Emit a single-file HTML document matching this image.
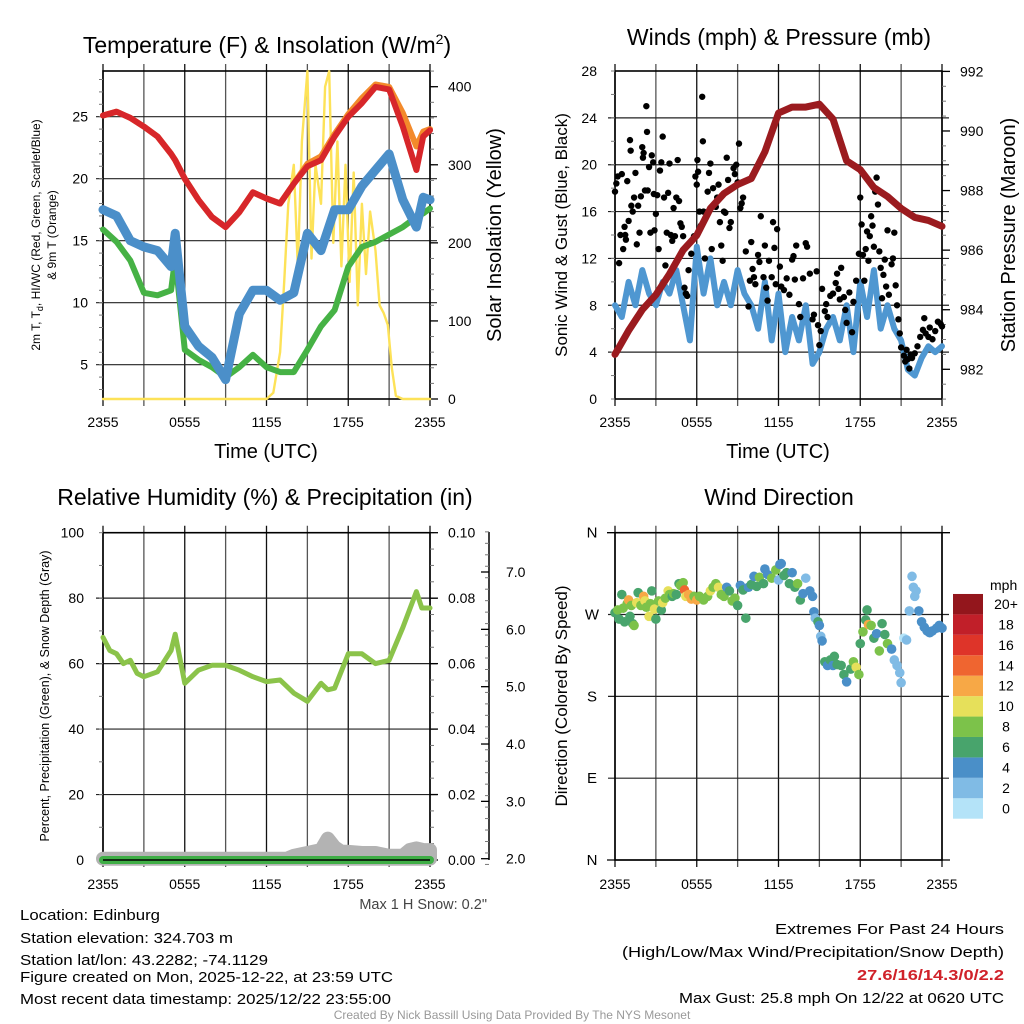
<!DOCTYPE html>
<html><head><meta charset="utf-8"><style>
html,body{margin:0;padding:0;background:#fff}
svg{display:block;font-family:"Liberation Sans",Arial,sans-serif}
</style></head><body>
<svg id="root" width="1024" height="1024" viewBox="0 0 1024 1024" xmlns="http://www.w3.org/2000/svg">
<rect width="1024" height="1024" fill="#fff"/>
<g id="layer"></g>
<text x="267" y="53" font-size="23" text-anchor="middle">Temperature (F) &amp; Insolation (W/m<tspan dy="-9" font-size="14">2</tspan><tspan dy="9">)</tspan></text>
<text x="779" y="45" font-size="23" text-anchor="middle">Winds (mph) &amp; Pressure (mb)</text>
<text x="265" y="505" font-size="23" text-anchor="middle">Relative Humidity (%) &amp; Precipitation (in)</text>
<text x="779" y="505" font-size="23" text-anchor="middle">Wind Direction</text>
<text x="266" y="458" font-size="20" text-anchor="middle">Time (UTC)</text>
<text x="778" y="458" font-size="20" text-anchor="middle">Time (UTC)</text>
<text transform="translate(40,235) rotate(-90)" font-size="12" text-anchor="middle">2m T, T<tspan font-size="9" dy="3">d</tspan><tspan dy="-3">, HI/WC (Red, Green, Scarlet/Blue)</tspan></text>
<text transform="translate(56,235) rotate(-90)" font-size="12" text-anchor="middle">&amp; 9m T (Orange)</text>
<text transform="translate(501,235) rotate(-90)" font-size="20" text-anchor="middle">Solar Insolation (Yellow)</text>
<text transform="translate(567,235) rotate(-90)" font-size="17" text-anchor="middle">Sonic Wind &amp; Gust (Blue, Black)</text>
<text transform="translate(1015,235) rotate(-90)" font-size="20" text-anchor="middle">Station Pressure (Maroon)</text>
<text transform="translate(49,696) rotate(-90)" font-size="12.5" text-anchor="middle">Percent, Precipitation (Green), &amp; Snow Depth (Gray)</text>
<text transform="translate(567,696) rotate(-90)" font-size="17" text-anchor="middle">Direction (Colored By Speed)</text>
<text x="487" y="909" font-size="14.5" text-anchor="end" fill="#444">Max 1 H Snow: 0.2"</text>
<g font-size="15">
<text x="20" y="920" textLength="140" lengthAdjust="spacingAndGlyphs">Location: Edinburg</text>
<text x="20" y="943" textLength="213" lengthAdjust="spacingAndGlyphs">Station elevation: 324.703 m</text>
<text x="20" y="965" textLength="248" lengthAdjust="spacingAndGlyphs">Station lat/lon: 43.2282; -74.1129</text>
<text x="20" y="982" textLength="373" lengthAdjust="spacingAndGlyphs">Figure created on Mon, 2025-12-22, at 23:59 UTC</text>
<text x="20" y="1004" textLength="371" lengthAdjust="spacingAndGlyphs">Most recent data timestamp: 2025/12/22 23:55:00</text>
</g>
<g font-size="15">
<text x="775" y="934" textLength="229" lengthAdjust="spacingAndGlyphs">Extremes For Past 24 Hours</text>
<text x="622" y="957" textLength="382" lengthAdjust="spacingAndGlyphs">(High/Low/Max Wind/Precipitation/Snow Depth)</text>
<text x="857" y="980" textLength="147" lengthAdjust="spacingAndGlyphs" fill="#d0222a" font-weight="bold">27.6/16/14.3/0/2.2</text>
<text x="679" y="1003" textLength="325" lengthAdjust="spacingAndGlyphs">Max Gust: 25.8 mph On 12/22 at 0620 UTC</text>
</g>
<text x="512" y="1019" font-size="12" text-anchor="middle" fill="#999">Created By Nick Bassill Using Data Provided By The NYS Mesonet</text>
</svg>
<script>
const hours = [0,1,2,3,4,5,5.3,6,7,8,9,10,11,12,13,14,15,16,17,18,19,20,21,22,23,23.5,24];
const tempF = [25.1,25.4,24.9,24.2,23.4,22.0,21.5,20.0,18.3,16.9,16.1,17.3,18.9,18.4,18.0,19.6,21.0,21.5,23.4,25.0,26.1,27.4,27.2,24.2,20.7,23.4,23.9];
const temp9mF = [25.1,25.4,24.9,24.2,23.4,22.0,21.5,20.0,18.3,16.9,16.1,17.3,18.9,18.4,18.0,19.6,21.2,21.8,23.6,25.2,26.5,27.6,27.4,25.3,22.6,23.8,24.0];
const dewF = [15.9,14.9,13.4,10.8,10.6,11.0,13.6,6.2,5.4,4.8,4.0,4.8,5.8,4.8,4.4,4.4,6.2,8.1,9.4,12.9,14.5,14.9,15.5,16.1,16.9,17.2,17.6];
const windChillF = [17.5,17.0,15.0,14.5,14.2,12.9,15.6,8.1,6.5,5.6,3.8,9.1,11.0,11.0,10.2,10.8,15.6,14.2,17.5,17.5,19.4,20.7,22.0,18.3,16.1,18.5,18.3];
const solarHours = [0,12,12.5,13,13.3,13.6,14,14.3,14.6,15,15.3,15.6,16,16.3,16.6,16.9,17.2,17.5,17.8,18.1,18.4,18.7,19,19.3,19.6,20,20.3,20.6,20.9,21.2,21.5,22,24];
const solarW = [0,0,8,60,150,250,300,170,330,420,180,300,250,400,420,200,330,170,300,150,290,120,250,160,240,190,120,110,95,40,4,0,0];
const windHours = [0,0.5,1,1.5,2,2.5,3,3.5,4,4.5,5,5.5,6,6.5,7,7.5,8,8.5,9,9.5,10,10.5,11,11.5,12,12.5,13,13.5,14,14.5,15,15.5,16,16.5,17,17.5,18,18.5,19,19.5,20,20.5,21,21.5,22,22.5,23,23.5,24];
const windMph = [8,7,10,8,11,9,8,10,9,11,8,5,13,9,12,8,10,8,11,9,8,6,10,5,9,4,7,5,8,3,4,6,7,5,8,4,10,7,11,6,8,6,5,2.5,2,3.5,4.5,4,4.5];
const presHours = [0,1,2,3,4,5,6,7,8,9,10,11,12,13,14,15,16,17,18,19,20,21,22,23,24];
const presMb = [982.5,983.3,984.0,984.5,985.2,986.0,986.5,987.4,987.9,988.2,988.4,989.3,990.6,990.8,990.8,990.9,990.4,989.0,988.7,988.1,987.8,987.4,987.1,987.0,986.8];
const gustHour = [0,0.1,0.2,0.3,0.4,0.5,0.6,0.7,0.75,0.8,0.9,1.0,1.1,1.15,1.2,1.3,1.4,1.5,1.6,1.7,1.8,1.9,2.0,2.05,2.1,2.2,2.3,2.35,2.4,2.5,2.6,2.7,2.8,2.85,2.9,3.0,3.1,3.2,3.3,3.4,3.5,3.6,3.7,3.8,3.9,4.0,4.1,4.2,4.3,4.4,4.5,4.6,4.7,4.8,4.9,5.0,5.1,5.2,5.3,5.4,5.6,5.8,5.9,6.0,6.05,6.1,6.2,6.3,6.4,6.45,6.5,6.6,6.8,6.9,7.0,7.1,7.2,7.4,7.5,7.6,7.7,7.8,7.9,8.0,8.1,8.2,8.3,8.4,8.5,8.7,8.8,8.9,9.0,9.1,9.2,9.3,9.4,9.6,9.8,9.9,10.0,10.1,10.2,10.3,10.5,10.6,10.7,10.9,11.0,11.1,11.2,11.3,11.5,11.6,11.7,11.8,11.9,12.1,12.2,12.4,12.6,12.8,13.0,13.1,13.2,13.3,13.5,13.6,13.8,14.0,14.1,14.3,14.5,14.6,14.8,14.9,15.0,15.1,15.2,15.4,15.5,15.6,15.8,16.0,16.2,16.3,16.4,16.5,16.6,16.8,16.9,17.0,17.2,17.4,17.5,17.7,17.9,18.0,18.1,18.2,18.3,18.4,18.5,18.6,18.7,18.8,18.9,19.0,19.1,19.2,19.3,19.4,19.5,19.6,19.7,19.8,19.9,20.0,20.1,20.3,20.4,20.5,20.6,20.7,20.8,20.9,21.0,21.2,21.3,21.4,21.5,21.6,21.7,21.8,22.0,22.2,22.4,22.6,22.7,22.8,23.0,23.1,23.3,23.5,23.7,23.9,24.0];
const gustMph = [17.7,18.4,19,11.6,14,19.2,12.8,14.7,14,13.6,18.6,15.2,22.1,21.2,16.5,16,17.2,19.3,13.2,16.5,14.2,17.3,21.5,20.6,21,17.8,25,22.8,17.8,19.8,14.2,20.8,20.2,17.5,14.4,15.8,17.4,12.8,19.5,20.2,22.4,17.2,11.4,14.2,17.6,20.1,14,13.5,16.3,13.9,17.2,20.4,16.9,15,14.7,13.9,9.5,9,8.8,11,12.4,13.9,19,18.3,20.4,19.4,16,14.8,25.8,22,16,12,17.7,19.3,20.1,12.8,18,16.4,17.2,18.3,15.1,13.1,11.8,16,15.9,20.6,18.7,14.6,15.1,19.7,19.2,20,18.5,21.8,16.3,16.7,17.2,12.6,7.9,10.1,13.4,11.1,10.4,9.8,12.3,11.7,15.6,10.4,13.1,9.5,8.4,11.8,10.4,15.1,12.9,9.8,14.5,11.3,9.6,9.3,10.3,8.9,11.9,12.2,10.2,13.1,8.1,7,10.3,13.3,13,10.7,6.8,7.2,10.9,6.3,4.6,5.8,9.4,7.5,8.1,7,8.8,9,9.9,10.7,9.4,8.5,11.2,8.7,7.6,6.5,9.1,5.7,8.3,10.1,12.4,17.2,14.9,12.3,10.1,12.8,14.3,11.8,13.9,15.6,14.8,13,17.7,18.9,16.6,12.6,11.2,8.6,10.6,11.9,9.6,14.4,8.9,11.5,12,14.2,9.7,8,6.8,5.6,4.4,3.7,3.2,4.2,3.4,2.6,3.8,3.5,3.9,4.5,5.3,5.9,6.9,5.6,5.3,6.1,5.1,5.8,6.6,6.4,6.2];
const rhHours = [0,0.5,1,1.5,2,2.5,3,4,5,5.3,6,7,8,9,10,11,12,13,14,15,16,16.5,17,18,19,20,21,22,23,23.4,24];
const rhPct = [68,64,63,60,61,57,56,57.5,64,69,54,58,59.5,59.5,58,56,54.5,55,51,48.5,54,52,52.5,63,63,60,61,71,82,77,77];
const precipHours = [0,24];
const precipIn = [0,0];
const snowHours = [0,13.5,14,15,16,16.5,17,17.5,18,19,20,21,22,22.5,23,23.5,24];
const snowIn = [2.0,2.0,2.05,2.1,2.15,2.35,2.2,2.12,2.12,2.1,2.1,2.05,2.05,2.15,2.18,2.15,2.15];
const dirHour = [0,0.2,0.3,0.5,0.6,0.7,0.9,1.0,1.1,1.2,1.3,1.4,1.6,1.7,1.9,2.1,2.2,2.3,2.5,2.6,2.7,2.9,3.0,3.2,3.4,3.5,3.7,3.9,4.0,4.2,4.3,4.5,4.7,4.8,5.0,5.1,5.2,5.4,5.6,5.8,6.0,6.2,6.5,6.8,7.0,7.2,7.4,7.6,7.8,8.0,8.2,8.4,8.6,8.8,9.0,9.2,9.4,9.6,9.8,10.0,10.2,10.4,10.6,10.9,11.0,11.2,11.5,11.8,12.0,12.1,12.2,12.4,12.6,12.8,13.0,13.2,13.4,13.6,13.8,14.0,14.3,14.5,14.6,14.7,14.9,15.0,15.1,15.2,15.4,15.6,15.8,16.0,16.1,16.3,16.6,16.8,17.0,17.3,17.5,17.7,17.9,18.0,18.2,18.4,18.5,18.6,18.8,19.0,19.2,19.4,19.6,19.8,20.0,20.3,20.5,20.7,20.9,21.0,21.2,21.4,21.6,21.8,21.9,22.0,22.1,22.3,22.5,22.7,22.9,23.1,23.3,23.6,23.8,24.0];
const dirDeg = [272,275,265,292,277,262,282,286,268,280,260,258,283,294,280,290,285,278,268,282,296,276,265,285,275,283,288,296,292,290,293,292,304,302,305,297,290,292,287,290,286,290,286,290,296,300,304,300,292,290,300,296,285,288,280,302,297,266,300,303,312,301,311,304,320,314,310,319,308,325,326,313,316,304,316,300,304,286,293,310,296,290,273,266,262,258,246,241,218,214,220,214,224,215,214,204,196,210,218,212,204,238,251,264,275,259,258,244,249,230,260,248,238,232,220,214,206,195,244,242,274,312,300,290,296,274,262,256,252,250,252,255,258,255];
const dirSpeed = [7,8,7,6,8,6,8,12,7,9,6,8,10,6,9,12,10,9,10,8,6,10,7,9,6,10,9,10,8,6,9,6,6,8,8,14,10,12,12,8,12,9,9,8,10,9,8,10,9,9,5,6,8,8,7,5,6,6,5,6,5,6,8,6,5,4,8,8,2,5,4,6,6,6,5,6,8,6,5,2,4,4,4,2,6,4,2,4,6,4,6,4,6,6,6,6,4,6,8,10,8,6,8,6,6,12,8,6,4,8,6,6,8,4,2,2,2,2,0,2,2,2,2,2,2,4,4,4,4,4,4,4,4,4];
const speedBins = ["0","2","4","6","8","10","12","14","16","18","20+"];
const speedColors = ["#b4e3f8","#80bbe5","#4a8fc8","#48a46c","#7cc24a","#e6e05a","#f7a846","#ef6530","#de3429","#c11f29","#93161c"];
const timeLabels = ["2355","0555","1155","1755","2355"];
const tempTicks = [5,10,15,20,25];
const solarTicks = [0,100,200,300,400];
const windTicks = [0,4,8,12,16,20,24,28];
const presTicks = [982,984,986,988,990,992];
const rhTicks = [0,20,40,60,80,100];
const precipTicks = ["0.00","0.02","0.04","0.06","0.08","0.10"];
const snowTicks = ["2.0","3.0","4.0","5.0","6.0","7.0"];
const dirLabels = ["N","E","S","W","N"];

const NS="http://www.w3.org/2000/svg";
const layer=document.getElementById('layer');
function mk(tag,attrs,parent){const e=document.createElementNS(NS,tag);for(const k in attrs)e.setAttribute(k,attrs[k]);(parent||layer).appendChild(e);return e;}
function lin(d0,d1,r0,r1){return v=>r0+(v-d0)*(r1-r0)/(d1-d0);}
function pathOf(xs,ys,fx,fy){return xs.map((x,i)=>(i?'L':'M')+fx(x).toFixed(1)+','+fy(ys[i]).toFixed(1)).join('');}

function frame(x0,x1,y0,y1,hGrid,name){
  const g=mk('g',{});
  
  
  for(let h=0;h<=24;h+=3){const x=lin(0,24,x0,x1)(h);
    const l=mk('line',{x1:x,x2:x,y1:y0-7,y2:y1+7,stroke:(h%6==0)?'#111':'#555','stroke-width':1.3},g);
    
    }
  hGrid.forEach(y=>{const l=mk('line',{x1:x0-7,x2:x1+7,y1:y,y2:y,stroke:'#222','stroke-width':1.2},g);
    
    });
  const r=mk('rect',{x:x0,y:y0,width:x1-x0,height:y1-y0,fill:'none',stroke:'#000','stroke-width':1.6},g);
  
  
  return g;
}
function xlabels(x0,x1,y,name){const fx=lin(0,24,x0,x1);
  timeLabels.forEach((t,i)=>{const e=mk('text',{x:fx(i*6),y:y,'font-size':14,'text-anchor':'middle'});e.textContent=t;
    
    });}
function ylabels(vals,labels,fy,x,anchor,name,size){vals.forEach((v,i)=>{const e=mk('text',{x:x,y:fy(v)+5,'font-size':size||14,'text-anchor':anchor});e.textContent=labels[i];
    
    });}
function minorTicks(x,fy,d0,d1,step,dir){for(let v=d0;v<=d1+1e-9;v+=step){const y=fy(v);mk('line',{x1:x,x2:x+dir*4,y1:y,y2:y,stroke:'#777','stroke-width':1});}}
function line(xs,ys,fx,fy,color,w,name){const p=mk('path',{d:pathOf(xs,ys,fx,fy),fill:'none',stroke:color,'stroke-width':w,'stroke-linejoin':'round','stroke-linecap':'round'});
  
  return p;}

// ---- Panel 1: temperature
{const x0=103,x1=430,y0=71,y1=399;const fx=lin(0,24,x0,x1);const fy=lin(5,25,364.7,116.7);const fs=lin(0,400,399,86.7);
 frame(x0,x1,y0,y1,tempTicks.map(fy),'temp');
 minorTicks(x0,fy,3,28,1,-1);minorTicks(x1,fs,0,420,20,1);
 solarTicks.forEach(v=>mk('line',{x1:x1,x2:x1+8,y1:fs(v),y2:fs(v),stroke:'#000','stroke-width':1.3}));
 line(solarHours,solarW,fx,fs,'#fde258',2.4,'solar-line');
 line(hours,dewF,fx,fy,'#46b245',6,'dewpoint-line');
 line(hours,windChillF,fx,fy,'#4b8fc9',9,'windchill-line');
 line(hours,temp9mF,fx,fy,'#f38a2b',6,'temp-9m-line');
 line(hours,tempF,fx,fy,'#d7262a',6,'temp-2m-line');
 ylabels(tempTicks,tempTicks.map(String),fy,88,'end','temp-y');
 ylabels(solarTicks,solarTicks.map(String),fs,448,'start','solar-y');
 xlabels(x0,x1,427,'temp');}
// ---- Panel 2: winds
{const x0=615,x1=942,y0=71,y1=399;const fx=lin(0,24,x0,x1);const fy=lin(0,28,399,71);const fp=lin(982,992,369.3,71.4);
 frame(x0,x1,y0,y1,windTicks.slice(1,7).map(fy),'wind');
 minorTicks(x0,fy,0,28,2,-1);minorTicks(x1,fp,981,992,0.5,1);
 presTicks.forEach(v=>mk('line',{x1:x1,x2:x1+8,y1:fp(v),y2:fp(v),stroke:'#000','stroke-width':1.3}));
 line(windHours,windMph,fx,fy,'#4f97d1',6,'sonic-wind-line');
 gustHour.forEach((h,i)=>{const c=mk('circle',{cx:fx(h),cy:fy(gustMph[i]),r:3.2,fill:'#000'});
   
   });
 line(presHours,presMb,fx,fp,'#9b1b1f',7,'pressure-line');
 ylabels(windTicks,windTicks.map(String),fy,597,'end','wind-y');
 ylabels(presTicks,presTicks.map(String),fp,960,'start','pressure-y');
 xlabels(x0,x1,427,'wind');}
// ---- Panel 3: humidity
{const x0=103,x1=430,y0=532.7,y1=860;const fx=lin(0,24,x0,x1);const fy=lin(0,100,860,532.7);const fpr=lin(0,0.1,860,532.7);const fsn=lin(2,7,858.7,572);
 frame(x0,x1,y0,y1,rhTicks.slice(1,5).map(fy),'rh');
 minorTicks(x0,fy,0,100,10,-1);minorTicks(x1,fy,0,100,5,1);
 rhTicks.forEach(v=>mk('line',{x1:x1,x2:x1+8,y1:fy(v),y2:fy(v),stroke:'#000','stroke-width':1.3}));
 const ax=mk('line',{x1:489,x2:489,y1:532,y2:860,stroke:'#000','stroke-width':1.5});
 
 
 minorTicks(489,fsn,1.9,7.7,0.2,-1);
 snowTicks.forEach(v=>mk('line',{x1:489,x2:481,y1:fsn(+v),y2:fsn(+v),stroke:'#000','stroke-width':1.3}));
 const sp='M'+fx(0)+','+fsn(2)+'L'+pathOf(snowHours,snowIn,fx,fsn).slice(1)+'L'+fx(24)+','+fsn(2)+'Z';
 const a=mk('path',{d:sp,fill:'#b3b3b3',stroke:'#b3b3b3','stroke-width':14,'stroke-linejoin':'round','stroke-linecap':'round'});
 
 
 line(precipHours,precipIn,fx,fpr,'#3fae46',8,'precip-line');
 mk('line',{x1:x0,x2:x1,y1:860,y2:860,stroke:'#000','stroke-width':1.6});
 line(rhHours,rhPct,fx,fy,'#8bc34a',5,'rh-line');
 ylabels(rhTicks,rhTicks.map(String),fy,84,'end','rh-y');
 ylabels(rhTicks.map(v=>v/1000),precipTicks,fpr,448,'start','precip-y');
 ylabels(snowTicks.map(Number),snowTicks,fsn,506,'start','snow-y');
 xlabels(x0,x1,889,'rh');}
// ---- Panel 4: direction
{const x0=615,x1=942,y0=532.7,y1=860;const fx=lin(0,24,x0,x1);const fy=lin(0,360,860,532.7);
 frame(x0,x1,y0,y1,[90,180,270].map(fy),'dir');
 [0,360].forEach(v=>mk('line',{x1:x0-8,x2:x1+8,y1:fy(v),y2:fy(v),stroke:'#000','stroke-width':1.3}));
 dirHour.forEach((h,i)=>{const b=Math.min(10,Math.floor(dirSpeed[i]/2));const c=mk('circle',{cx:fx(h),cy:fy(dirDeg[i]),r:4.8,fill:speedColors[b]});
   
   });
 ylabels([0,90,180,270,360],dirLabels,fy,592,'middle','dir-y',15);
 xlabels(x0,x1,889,'dir');
 const lg=mk('g',{});
 
 
 const t=mk('text',{x:990,y:590,'font-size':14},lg);t.textContent='mph';
 
 
 speedBins.forEach((s,i)=>{const y=818.7-(i+1)*20.43;
   const r=mk('rect',{x:953,y:y,width:30,height:20.43,fill:speedColors[i]},lg);
   
   
   const tx=mk('text',{x:1006,y:y+15,'font-size':14,'text-anchor':'middle'},lg);tx.textContent=s;
   
   });}
</script>
</body></html>
